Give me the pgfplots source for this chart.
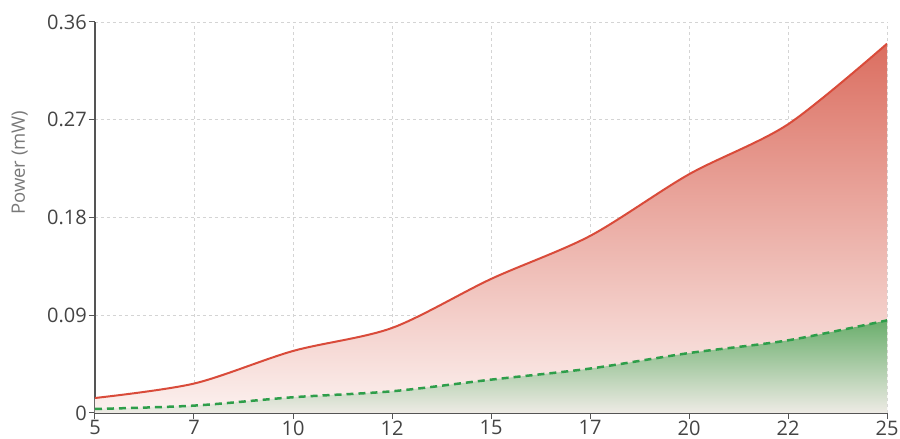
\documentclass[border=0pt]{standalone}
\usepackage{fontspec}
\setmainfont{Open Sans}
\usepackage{pgfplots}
\pgfplotsset{compat=1.18}

\definecolor{redline}{HTML}{D94B3A}
\definecolor{redtop}{HTML}{DB6E60}
\definecolor{redbot}{HTML}{FCF1EF}
\definecolor{greenline}{HTML}{2E9E4A}
\definecolor{greentop}{HTML}{6AAE6C}
\definecolor{greenbot}{HTML}{EEEBE5}
\definecolor{axisgray}{HTML}{555555}
\definecolor{ticktext}{HTML}{444444}
\definecolor{gridgray}{HTML}{D4D4D4}

\pgfplotstableread{
x     p
5     0.0138
7.5   0.0271
10    0.0571
12.5  0.0783
15    0.1234
17.5  0.1630
20    0.2198
22.5  0.2658
25    0.3400
}\redtab

\pgfplotstableread{
x     p
5     0.0037
7.5   0.0068
10    0.0145
12.5  0.0200
15    0.0307
17.5  0.0409
20    0.0552
22.5  0.0669
25    0.0853
}\greentab

\begin{document}
\begin{tikzpicture}
\begin{axis}[
    scale only axis,
    width=792pt, height=391pt,
    xmin=5, xmax=25, ymin=0, ymax=0.36,
    axis x line*=bottom, axis y line*=left,
    axis line style={axisgray, line width=1.2pt},
    xtick={5,7.5,10,12.5,15,17.5,20,22.5,25},
    xticklabels={5,7,10,12,15,17,20,22,25},
    ytick={0,0.09,0.18,0.27,0.36},
    yticklabels={0,0.09,0.18,0.27,0.36},
    tick align=outside,
    major tick length=6pt,
    tick style={axisgray, line width=1pt},
    ticklabel style={font=\fontsize{20}{22}\selectfont, text=ticktext},
    xticklabel style={inner sep=1.5pt},
    yticklabel style={inner sep=2pt},
    grid=major,
    grid style={gridgray, dashed, line width=0.8pt},
    ylabel={Power (mW)},
    ylabel style={font=\fontsize{18.5}{20}\selectfont, text=gray!95!black,
        at={(axis description cs:-0.095,0.64)}, anchor=center},
]
\addplot[draw=none, shading=axis, top color=redtop, bottom color=redbot, smooth]
    table[x=x, y=p] {\redtab} \closedcycle;
\addplot[draw=none, shading=axis, top color=greentop, bottom color=greenbot, smooth]
    table[x=x, y=p] {\greentab} \closedcycle;
\addplot[redline, line width=2pt, smooth] table[x=x, y=p] {\redtab};
\addplot[greenline, line width=2.5pt, smooth, dash pattern=on 7pt off 5pt]
    table[x=x, y=p] {\greentab};
\end{axis}
\path (current axis.south west) ++(-95pt,-26pt);
\path (current axis.north east) ++(13pt,22pt);
\end{tikzpicture}
\end{document}
